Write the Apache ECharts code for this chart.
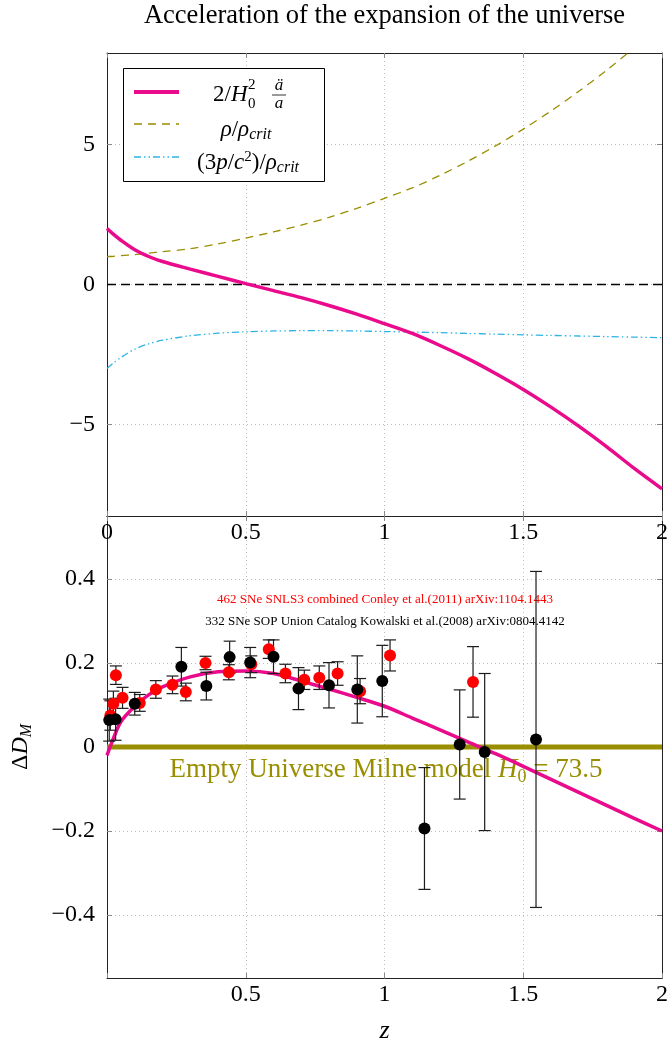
<!DOCTYPE html>
<html>
<head>
<meta charset="utf-8">
<script src="https://cdn.jsdelivr.net/npm/echarts@6/dist/echarts.min.js"></script>
<style>
  html, body { margin: 0; padding: 0; background: #fff; }
  #chart { width: 668px; height: 1043px; }
</style>
</head>
<body>
<div id="chart"></div>
<script>
// ---- Top panel: acceleration terms vs redshift ----
const zTop     = [0, 0.025, 0.05, 0.1, 0.15, 0.2, 0.3, 0.4, 0.5, 0.6, 0.7, 0.8, 0.9, 1.0, 1.1, 1.2, 1.3, 1.4, 1.5, 1.6, 1.7, 1.8, 1.9, 2.0];
const accel    = [2.0, 1.78, 1.58, 1.24, 1.0, 0.82, 0.55, 0.29, 0.03, -0.22, -0.47, -0.75, -1.06, -1.4, -1.75, -2.18, -2.65, -3.18, -3.75, -4.38, -5.06, -5.79, -6.57, -7.3];
const density  = [1.0, 1.01, 1.03, 1.07, 1.12, 1.17, 1.28, 1.45, 1.66, 1.88, 2.12, 2.4, 2.72, 3.08, 3.45, 3.9, 4.4, 4.95, 5.55, 6.2, 6.9, 7.65, 8.45, 9.2];
const pressure = [-3.0, -2.79, -2.61, -2.31, -2.12, -1.99, -1.83, -1.74, -1.69, -1.66, -1.65, -1.65, -1.66, -1.68, -1.70, -1.72, -1.75, -1.77, -1.80, -1.82, -1.84, -1.86, -1.88, -1.90];

// ---- Bottom panel: distance modulus relative to the Milne universe ----
const zModel  = [0, 0.02, 0.05, 0.1, 0.15, 0.2, 0.3, 0.4, 0.5, 0.6, 0.7, 0.8, 0.9, 1.0, 1.1, 1.2, 1.3, 1.4, 1.5, 1.6, 1.7, 1.8, 1.9, 2.0];
const dmModel = [-0.02, 0.015, 0.06, 0.097, 0.124, 0.143, 0.167, 0.179, 0.181, 0.175, 0.157, 0.138, 0.118, 0.097, 0.069, 0.041, 0.012, -0.016, -0.046, -0.077, -0.108, -0.139, -0.17, -0.2];

// SNLS3 binned supernovae (Conley et al. 2011)
const snlsZ   = [0.012, 0.023, 0.032, 0.056, 0.118, 0.176, 0.236, 0.284, 0.355, 0.439, 0.52, 0.583, 0.643, 0.711, 0.765, 0.831, 0.912, 1.02, 1.319];
const snlsDM  = [0.075, 0.103, 0.171, 0.117, 0.105, 0.137, 0.148, 0.131, 0.200, 0.178, 0.197, 0.233, 0.175, 0.160, 0.165, 0.175, 0.133, 0.218, 0.155];
const snlsErr = [0.035, 0.03, 0.022, 0.025, 0.02, 0.021, 0.021, 0.021, 0.016, 0.018, 0.02, 0.022, 0.022, 0.023, 0.028, 0.028, 0.03, 0.037, 0.084];

// Union catalogue binned supernovae (Kowalski et al. 2008)
const unionZ   = [0.008, 0.031, 0.1, 0.268, 0.358, 0.442, 0.516, 0.6, 0.69, 0.80, 0.902, 0.992, 1.144, 1.271, 1.361, 1.546];
const unionDM  = [0.064, 0.066, 0.103, 0.191, 0.145, 0.214, 0.201, 0.215, 0.139, 0.147, 0.137, 0.157, -0.194, 0.006, -0.012, 0.018];
const unionErr = [0.05, 0.05, 0.027, 0.046, 0.033, 0.038, 0.036, 0.04, 0.05, 0.054, 0.08, 0.085, 0.145, 0.13, 0.187, 0.40];

// Axis ticks
const xTicks        = [0, 0.5, 1, 1.5, 2];
const xLabelsBottom = [0.5, 1, 1.5, 2];
const topYTicks     = [-5, 0, 5];
const bottomYTicks  = [-0.4, -0.2, 0, 0.2, 0.4];
const milneLevel    = [[0, 0], [2, 0]];

const SERIF = '"Liberation Serif", "DejaVu Serif", serif';
const PINK = '#ea0a8c', OLIVE = '#998e00', CYAN = '#2cb4e6', RED = '#ff0000';

const fmt = v => (v < 0 ? '\u2212' + (-v) : String(v));
const pairs = (xs, ys) => xs.map((x, i) => [x, ys[i]]);

function xAxis(gridIndex, position, labelValues, extra) {
  return Object.assign({
    type: 'value', gridIndex, position, min: 0, max: 2, interval: 0.5,
    axisLine: { show: true, onZero: false, lineStyle: { color: '#222', width: 1 } },
    axisTick: { show: true, inside: true, length: 5, lineStyle: { color: '#888' } },
    axisLabel: labelValues
      ? { show: true, customValues: labelValues, fontFamily: SERIF, fontSize: 24, color: '#000', margin: 5, formatter: fmt }
      : { show: false },
    splitLine: position === 'bottom'
      ? { show: true, lineStyle: { color: '#bdbdbd', type: [1, 3], width: 1 } }
      : { show: false }
  }, extra || {});
}

function yAxis(gridIndex, position, min, max, ticks, showLabels, extra) {
  return Object.assign({
    type: 'value', gridIndex, position, min, max,
    axisLine: { show: true, onZero: false, lineStyle: { color: '#222', width: 1 } },
    axisTick: { show: true, inside: true, length: 5, customValues: ticks, lineStyle: { color: '#888' } },
    axisLabel: showLabels
      ? { show: true, customValues: ticks, fontFamily: SERIF, fontSize: 24, color: '#000', margin: 12, formatter: fmt }
      : { show: false },
    splitLine: showLabels
      ? { show: true, lineStyle: { color: '#bdbdbd', type: [1, 3], width: 1 } }
      : { show: false }
  }, extra || {});
}

function errorBars(zs, vs, es, xi, yi) {
  return {
    type: 'custom', xAxisIndex: xi, yAxisIndex: yi, silent: true, z: 4,
    data: zs.map((z, i) => [z, vs[i], es[i]]),
    encode: { x: 0, y: 1 },
    renderItem: (params, api) => {
      const z = api.value(0), v = api.value(1), e = api.value(2);
      const hi = api.coord([z, v + e]);
      const lo = api.coord([z, v - e]);
      const st = { stroke: '#1c1c1c', lineWidth: 1.2 };
      return {
        type: 'group',
        children: [
          { type: 'line', shape: { x1: hi[0], y1: hi[1], x2: lo[0], y2: lo[1] }, style: st },
          { type: 'line', shape: { x1: hi[0] - 6, y1: hi[1], x2: hi[0] + 6, y2: hi[1] }, style: st },
          { type: 'line', shape: { x1: lo[0] - 6, y1: lo[1], x2: lo[0] + 6, y2: lo[1] }, style: st }
        ]
      };
    }
  };
}

const chart = echarts.init(document.getElementById('chart'), null, { renderer: 'canvas' });

const option = {
  backgroundColor: '#fff',
  animation: false,
  grid: [
    { left: 107, top: 53, width: 555, height: 463, outerBoundsMode: 'none', containLabel: false },
    { left: 107, top: 516, width: 555, height: 462, outerBoundsMode: 'none', containLabel: false }
  ],
  xAxis: [
    xAxis(0, 'bottom', xTicks),
    xAxis(0, 'top', null),
    xAxis(1, 'bottom', xLabelsBottom, {
      name: 'z', nameLocation: 'middle', nameGap: 40,
      nameTextStyle: { fontFamily: SERIF, fontSize: 26, fontStyle: 'italic', color: '#000' }
    }),
    xAxis(1, 'top', null)
  ],
  yAxis: [
    yAxis(0, 'left', -8.27, 8.27, topYTicks, true),
    yAxis(0, 'right', -8.27, 8.27, topYTicks, false),
    yAxis(1, 'left', -0.55, 0.55, bottomYTicks, true, {
      name: '{n|\u0394}{i|D}{s|M}', nameLocation: 'middle', nameRotate: 90, nameGap: 72,
      nameTextStyle: {
        color: '#000',
        rich: {
          n: { fontFamily: SERIF, fontSize: 24, lineHeight: 28, color: '#000' },
          i: { fontFamily: SERIF, fontSize: 24, fontStyle: 'italic', lineHeight: 28, color: '#000' },
          s: { fontFamily: SERIF, fontSize: 16, fontStyle: 'italic', lineHeight: 16, verticalAlign: 'bottom', color: '#000' }
        }
      }
    }),
    yAxis(1, 'right', -0.55, 0.55, bottomYTicks, false)
  ],
  series: [
    // top panel
    { type: 'line', xAxisIndex: 0, yAxisIndex: 0, data: milneLevel, symbol: 'none', silent: true, z: 2,
      lineStyle: { color: '#000', width: 1.3, type: [9, 5] } },
    { type: 'line', xAxisIndex: 0, yAxisIndex: 0, data: pairs(zTop, density), symbol: 'none', smooth: 0.3, z: 3,
      lineStyle: { color: OLIVE, width: 1.3, type: [8, 6] } },
    { type: 'line', xAxisIndex: 0, yAxisIndex: 0, data: pairs(zTop, pressure), symbol: 'none', smooth: 0.3, z: 3,
      lineStyle: { color: CYAN, width: 1.3, type: [7, 3, 1.5, 3, 1.5, 3] } },
    { type: 'line', xAxisIndex: 0, yAxisIndex: 0, data: pairs(zTop, accel), symbol: 'none', smooth: 0.3, z: 4,
      lineStyle: { color: PINK, width: 3.5 } },
    // bottom panel
    { type: 'line', xAxisIndex: 2, yAxisIndex: 2, data: milneLevel, symbol: 'none', silent: true, z: 2,
      lineStyle: { color: OLIVE, width: 5 } },
    { type: 'line', xAxisIndex: 2, yAxisIndex: 2, data: pairs(zModel, dmModel), symbol: 'none', smooth: 0.3, z: 3,
      lineStyle: { color: PINK, width: 3.5 } },
    errorBars(snlsZ, snlsDM, snlsErr, 2, 2),
    { type: 'scatter', xAxisIndex: 2, yAxisIndex: 2, data: pairs(snlsZ, snlsDM), symbol: 'circle', symbolSize: 12, z: 5,
      itemStyle: { color: RED, opacity: 1 } },
    errorBars(unionZ, unionDM, unionErr, 2, 2),
    { type: 'scatter', xAxisIndex: 2, yAxisIndex: 2, data: pairs(unionZ, unionDM), symbol: 'circle', symbolSize: 12, z: 6,
      itemStyle: { color: '#000', opacity: 1 } }
  ],
  graphic: [
    // title
    { type: 'text', x: 384.5, y: 16, z: 100,
      style: { text: 'Acceleration of the expansion of the universe', fontFamily: SERIF, fontSize: 26.5, fill: '#000', align: 'center', verticalAlign: 'middle' } },
    // legend box
    { type: 'rect', z: 100, shape: { x: 123.5, y: 68.5, width: 201, height: 113 }, style: { fill: '#fff', stroke: '#000', lineWidth: 1 } },
    { type: 'line', z: 101, shape: { x1: 134, y1: 92, x2: 179, y2: 92 }, style: { stroke: PINK, lineWidth: 4 } },
    { type: 'line', z: 101, shape: { x1: 134, y1: 124, x2: 179, y2: 124 }, style: { stroke: OLIVE, lineWidth: 1.3, lineDash: [8, 6] } },
    { type: 'line', z: 101, shape: { x1: 134, y1: 157, x2: 179, y2: 157 }, style: { stroke: CYAN, lineWidth: 1.3, lineDash: [7, 3, 1.5, 3, 1.5, 3] } },
    { type: 'text', z: 101, x: 213, y: 95,
      style: { text: '{n|2/}{i|H}', align: 'left', verticalAlign: 'middle',
        rich: { n: { fontFamily: SERIF, fontSize: 23, fill: '#000' }, i: { fontFamily: SERIF, fontSize: 23, fontStyle: 'italic', fill: '#000' } } } },
    { type: 'text', z: 101, x: 248, y: 85, style: { text: '2', fontFamily: SERIF, fontSize: 15, fill: '#000', align: 'left', verticalAlign: 'middle' } },
    { type: 'text', z: 101, x: 248, y: 104, style: { text: '0', fontFamily: SERIF, fontSize: 15, fill: '#000', align: 'left', verticalAlign: 'middle' } },
    { type: 'text', z: 101, x: 279, y: 86, style: { text: 'a\u0308', fontFamily: SERIF, fontSize: 17, fontStyle: 'italic', fill: '#000', align: 'center', verticalAlign: 'middle' } },
    { type: 'line', z: 101, shape: { x1: 272, y1: 95, x2: 286, y2: 95 }, style: { stroke: '#000', lineWidth: 0.8 } },
    { type: 'text', z: 101, x: 279, y: 104, style: { text: 'a', fontFamily: SERIF, fontSize: 17, fontStyle: 'italic', fill: '#000', align: 'center', verticalAlign: 'middle' } },
    { type: 'text', z: 101, x: 246, y: 130,
      style: { text: '{i|\u03c1}{n|/}{i|\u03c1}{s|crit}', align: 'center', verticalAlign: 'middle',
        rich: {
          n: { fontFamily: SERIF, fontSize: 23, lineHeight: 26, fill: '#000' },
          i: { fontFamily: SERIF, fontSize: 23, fontStyle: 'italic', lineHeight: 26, fill: '#000' },
          s: { fontFamily: SERIF, fontSize: 16, fontStyle: 'italic', lineHeight: 16, verticalAlign: 'bottom', fill: '#000' }
        } } },
    { type: 'text', z: 101, x: 248, y: 163,
      style: { text: '{n|(3}{i|p}{n|/}{i|c}{p|2}{n|)/}{i|\u03c1}{s|crit}', align: 'center', verticalAlign: 'middle',
        rich: {
          n: { fontFamily: SERIF, fontSize: 23, lineHeight: 26, fill: '#000' },
          i: { fontFamily: SERIF, fontSize: 23, fontStyle: 'italic', lineHeight: 26, fill: '#000' },
          p: { fontFamily: SERIF, fontSize: 15, lineHeight: 14, verticalAlign: 'top', fill: '#000' },
          s: { fontFamily: SERIF, fontSize: 16, fontStyle: 'italic', lineHeight: 16, verticalAlign: 'bottom', fill: '#000' }
        } } },
    // data source notes
    { type: 'text', z: 1, x: 385, y: 600,
      style: { text: '462 SNe SNLS3 combined Conley et al.(2011) arXiv:1104.1443', fontFamily: SERIF, fontSize: 13, fill: RED, align: 'center', verticalAlign: 'middle' } },
    { type: 'text', z: 1, x: 385, y: 622,
      style: { text: '332 SNe SOP Union Catalog Kowalski et al.(2008) arXiv:0804.4142', fontFamily: SERIF, fontSize: 13, fill: '#000', align: 'center', verticalAlign: 'middle' } },
    // Milne reference label
    { type: 'text', z: 1, x: 386, y: 770,
      style: { text: '{n|Empty Universe Milne model }{i|H}{s|0}{n| = 73.5}', align: 'center', verticalAlign: 'middle',
        rich: {
          n: { fontFamily: SERIF, fontSize: 27, lineHeight: 32, fill: OLIVE },
          i: { fontFamily: SERIF, fontSize: 27, fontStyle: 'italic', lineHeight: 32, fill: OLIVE },
          s: { fontFamily: SERIF, fontSize: 18, lineHeight: 18, verticalAlign: 'bottom', fill: OLIVE }
        } } }
  ]
};

chart.setOption(option);
</script>
</body>
</html>
